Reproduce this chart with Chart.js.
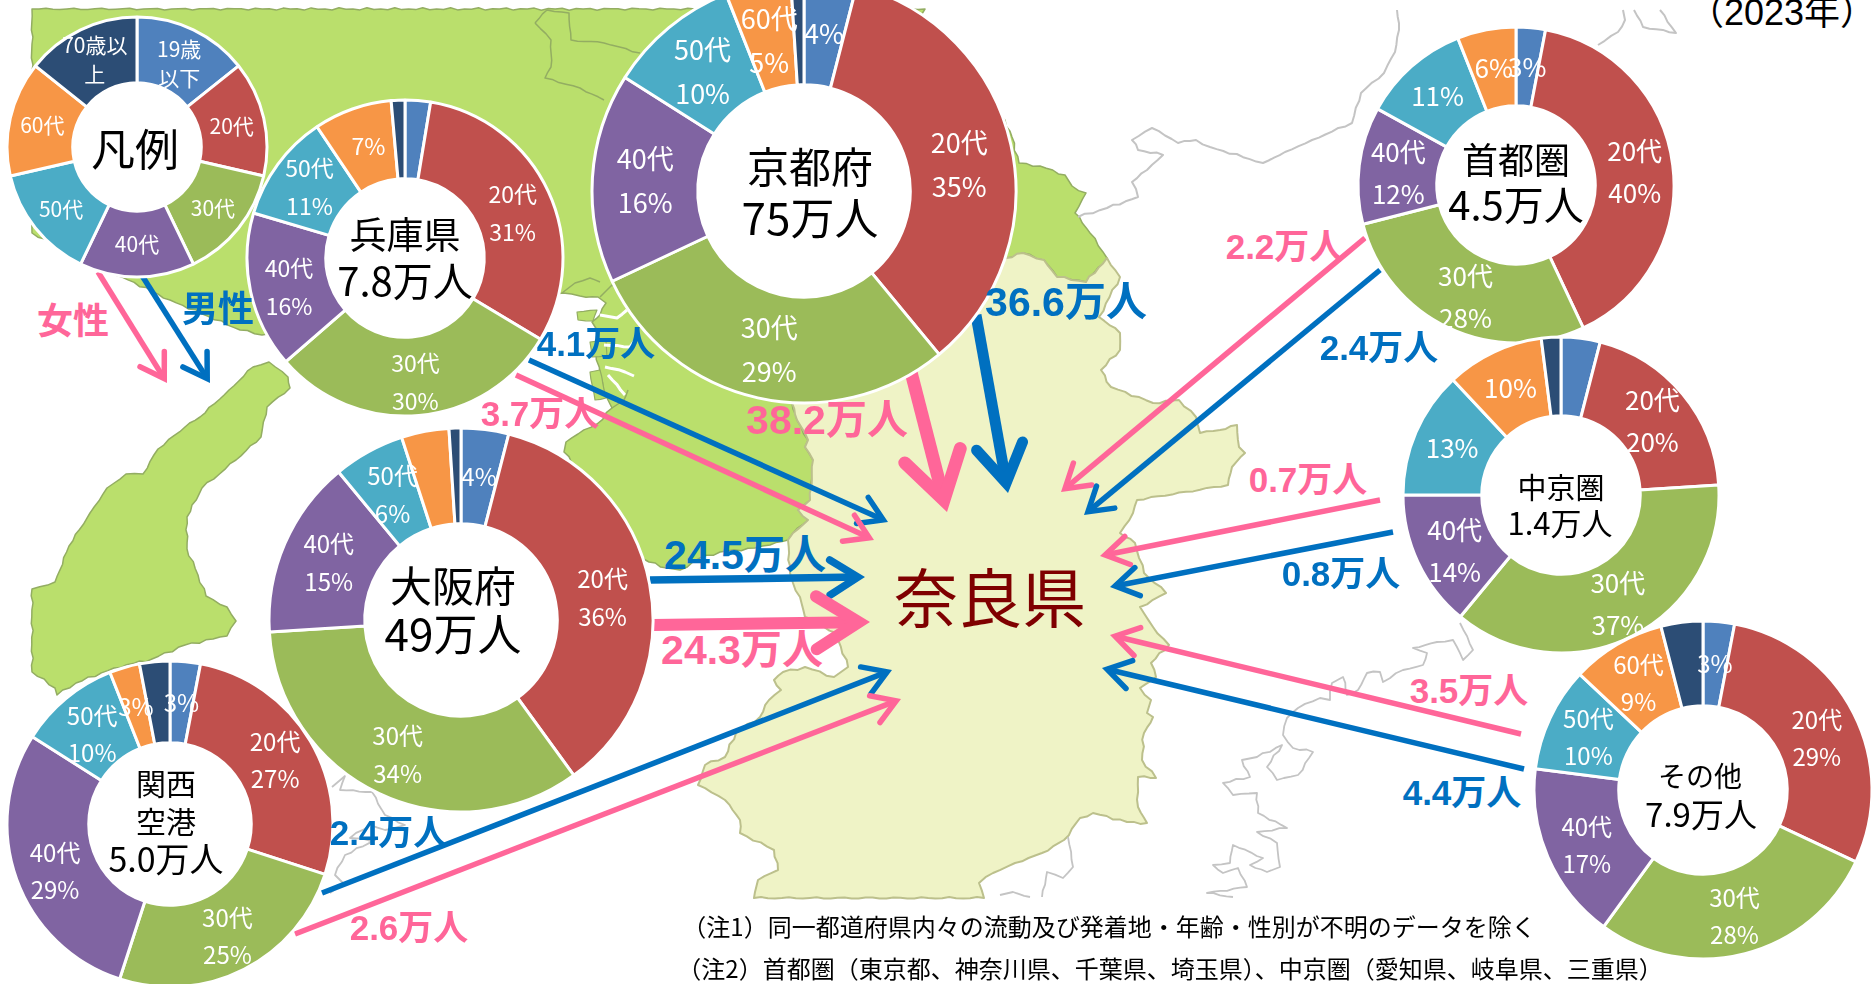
<!DOCTYPE html>
<html lang="ja"><head><meta charset="utf-8">
<style>
html,body{margin:0;padding:0;background:#fff;width:1872px;height:984px;overflow:hidden}
#stage{position:relative;width:1872px;height:984px;overflow:hidden;font-family:"Noto Sans CJK JP",sans-serif}
svg#map{position:absolute;left:0;top:0}
canvas{position:absolute}
.t{position:absolute;white-space:nowrap;transform:translate(-50%,-50%);line-height:1}
.b{font-family:"Liberation Sans","Noto Sans CJK JP",sans-serif;font-weight:700}
</style></head><body>
<div id="stage"><svg id="map" width="1872" height="984" xmlns="http://www.w3.org/2000/svg"></svg></div>
<script src="https://cdn.jsdelivr.net/npm/chart.js@4"></script>
<script>
// ---- data ----
const ageGroups = ['19歳以下','20代','30代','40代','50代','60代','70歳以上'];
const colors = ['#4F81BD','#C0504D','#9BBB59','#8064A2','#4BACC6','#F79646','#2C4D75'];
const legendValues = [1,1,1,1,1,1,1];
const hyogoValues  = [2.6,31,30,16,11,8,1.4];
const kyotoValues  = [4,35,29,16,10,5,1];
const osakaValues  = [4,36,34,15,6,4,1];
const kansaiValues = [3,27,25,29,10,3,3];
const shutoValues  = [3,40,28,12,11,6,0];
const chukyoValues = [4,20,37,14,13,10,2];
const sonotaValues = [3,29,28,17,10,9,4];
const legendLabels = [['19歳','以下'],['20代'],['30代'],['40代'],['50代'],['60代'],['70歳以','上']];
const hyogoLabels  = [[],['20代','31%'],['30代','30%'],['40代','16%'],['50代','11%'],['7%'],[]];
const kyotoLabels  = [['4%'],['20代','35%'],['30代','29%'],['40代','16%'],['50代','10%'],['60代','5%'],[]];
const osakaLabels  = [['4%'],['20代','36%'],['30代','34%'],['40代','15%'],['50代','6%'],[],[]];
const kansaiLabels = [['3%'],['20代','27%'],['30代','25%'],['40代','29%'],['50代','10%'],['3%'],[]];
const shutoLabels  = [['3%'],['20代','40%'],['30代','28%'],['40代','12%'],['11%'],['6%'],[]];
const chukyoLabels = [[],['20代','20%'],['30代','37%'],['40代','14%'],['13%'],['10%'],[]];
const sonotaLabels = [['3%'],['20代','29%'],['30代','28%'],['40代','17%'],['50代','10%'],['60代','9%'],[]];
const flowLabels = {
  kyotoF:'38.2万人',kyotoM:'36.6万人',osakaM:'24.5万人',osakaF:'24.3万人',hyogoM:'4.1万人',hyogoF:'3.7万人',
  kansaiM:'2.4万人',kansaiF:'2.6万人',shutoF:'2.2万人',shutoM:'2.4万人',chukyoF:'0.7万人',chukyoM:'0.8万人',
  sonotaF:'3.5万人',sonotaM:'4.4万人'};
const noteLines = ['（注1）同一都道府県内々の流動及び発着地・年齢・性別が不明のデータを除く',
  '（注2）首都圏（東京都、神奈川県、千葉県、埼玉県）、中京圏（愛知県、岐阜県、三重県）'];

// ---- background map (decoration) ----
const PINK='#FF6699', BLUE='#0070C0';
const svg=document.getElementById('map');
function el(n,a){const e=document.createElementNS('http://www.w3.org/2000/svg',n);for(const k in a)e.setAttribute(k,a[k]);svg.appendChild(e);return e;}
// coast roughening: fixed wobble so the outline is not ruler-straight
function rough(s,closed,amp){
  const p=s.trim().split(/\s+/).map(q=>q.split(',').map(Number));if(closed)p.push(p[0]);
  const out=[];let n=0;
  for(let i=0;i<p.length-1;i++){
    const [a,b]=p[i],[c,d]=p[i+1],L=Math.hypot(c-a,d-b),k=Math.max(1,Math.round(L/7));
    const nx=-(d-b)/(L||1),ny=(c-a)/(L||1);
    for(let j=0;j<k;j++){n++;const o=j===0?0:amp*Math.sin(n*2.399)*Math.cos(n*0.77);
      out.push((a+(c-a)*j/k+nx*o).toFixed(1)+','+(b+(d-b)*j/k+ny*o).toFixed(1));}
  }
  if(!closed)out.push(p[p.length-1].join(','));
  return out.join(' ');
}
const poly=(pts,fill,stroke,sw,amp)=>el('polygon',{points:rough(pts,true,amp===undefined?1.3:amp),fill,stroke:stroke||'none','stroke-width':sw||1,'stroke-linejoin':'round'});
const line=(pts,stroke,sw,amp)=>el('polyline',{points:rough(pts,false,amp===undefined?1.2:amp),fill:'none',stroke,'stroke-width':sw||2,'stroke-linejoin':'round'});
const GREEN='#BADF6C', PALE='#EFF3C6', GE='#93AD62', PE='#BCC08C', GR='#C4C4C4';
poly('32,9 925,9 900,40 1005,120 1012,137 1019,163 1040,166 1065,175 1072,186 1086,193 1075,213 1090,233 1107,258 1086,282 1057,277 1044,260 1023,253 1006,258 950,330 792,403 797,420 808,440 805,447 813,460 810,500 798,510 808,520 793,533 788,540 770,545 755,548 720,552 700,558 680,570 667,568 649,562 640,557 600,500 564,452 566,442 578,434 597,424 612,408 607,398 600,375 596,352 597,330 592,322 600,315 606,303 598,297 580,296 563,293 400,300 262,335 240,330 170,300 122,277 32,233',GREEN,GE,1.5);
// islands and channels of the bay
poly('577,312 597,310 593,321 578,320',GREEN,GE,1.2,.6);
poly('590,372 600,370 606,398 595,400',GREEN,GE,1.2,.6);
poly('590,342 606,340 607,356 592,357',GREEN,GE,1.2,.6);
line('600,315 617,318 627,310','#fff',3);line('604,345 630,347 637,338','#fff',3);line('605,367 625,372 634,376','#fff',3);line('608,375 625,395','#fff',3);
line('562,293 575,283 590,278 600,282',GE,1.5);line('600,297 612,285 622,290',GE,1.5);line('612,408 624,400 628,390',GE,1.5);
poly('792,403 950,330 1006,258 1023,253 1044,260 1057,277 1086,282 1107,258 1120,277 1099,317 1120,333 1120,350 1101,370 1111,387 1153,403 1179,400 1196,417 1200,433 1220,430 1237,425 1239,447 1245,453 1232,467 1228,485 1137,500 1133,513 1120,533 1135,543 1144,573 1166,593 1140,607 1153,627 1169,645 1151,663 1156,677 1140,688 1151,700 1147,713 1153,717 1144,733 1142,760 1156,778 1138,777 1138,807 1147,823 1127,822 1093,813 1080,818 1064,840 1042,853 1015,863 993,873 979,883 984,898 754,898 758,880 778,870 774,850 740,833 740,820 725,800 698,785 705,765 725,757 736,733 760,717 769,700 781,690 774,680 783,672 805,667 834,677 848,667 836,633 805,617 800,597 793,583 790,573 788,540 793,533 808,520 798,510 810,500 813,460 805,447 808,440 797,420',PALE,PE,2);
// island to the west
poly('269,362 288,377 290,388 267,407 261,437 236,460 202,488 187,517 187,549 198,575 206,596 227,607 236,621 227,636 185,645 152,659 114,668 76,683 57,695 55,688 32,672 32,589 55,582 69,546 90,513 107,488 126,474 143,474 158,449 185,427 200,417 229,390 253,367',GREEN,GE,1.5);
// internal and neighbouring borders
line('535,23 547,10 569,13 571,40 604,43 640,53',GE,1.5);
line('535,23 551,40 551,67 545,78 580,88 604,100',GE,1.5);
line('1397,10 1399,30 1395,52 1384,73 1361,93 1352,123 1312,140 1285,152 1263,163 1210,147 1196,140 1178,143 1152,128 1132,140 1138,150 1163,155 1147,170 1132,182 1138,197 1107,208 1078,217',GR,2);
line('1623,10 1625,20 1618,32 1598,45',GR,2);line('1634,10 1643,27 1676,33 1660,10',GR,2);
line('1460,623 1473,650 1463,660 1453,640 1437,642 1413,648 1427,653 1423,665 1403,670 1383,682 1380,672 1367,673 1358,690 1347,695 1343,677 1332,683 1330,700 1320,698 1298,708 1287,718 1283,735 1293,748 1313,752 1298,775 1277,780 1267,767 1282,745 1257,757 1242,760 1250,777 1223,783 1233,795 1257,793 1258,813 1287,828 1257,832 1277,843 1280,867 1267,872 1250,865 1263,858 1233,845 1230,863 1213,865 1223,873 1238,868 1247,887 1207,893 1233,897',GR,1.8);
line('1068,837 1073,867 1063,878 1047,872 1042,897',GR,1.8);
line('1000,895 1013,892 1030,897',GR,1.8);
line('332,787 345,776 340,790 372,792 385,815 405,825 385,830 370,825 350,838 375,840 345,855 335,875 345,885 330,893',GR,1.8);

// ---- arrows ----
function arrow(x1,y1,x2,y2,w,barb,color){
  const L=Math.hypot(x2-x1,y2-y1),dx=(x2-x1)/L,dy=(y2-y1)/L,th=32*Math.PI/180;
  const vx=x2-dx*(w/2)/Math.sin(th),vy=y2-dy*(w/2)/Math.sin(th);
  const rot=a=>[-(dx*Math.cos(a)-dy*Math.sin(a)),-(dx*Math.sin(a)+dy*Math.cos(a))];
  const a=rot(th),b=rot(-th);
  el('line',{x1,y1,x2:vx,y2:vy,stroke:color,'stroke-width':w});
  el('polyline',{points:`${vx+a[0]*barb},${vy+a[1]*barb} ${vx},${vy} ${vx+b[0]*barb},${vy+b[1]*barb}`,fill:'none',stroke:color,'stroke-width':w,'stroke-linecap':'round','stroke-linejoin':'miter','stroke-miterlimit':12});
}
arrow(98,272,167,383,5.5,27,PINK);arrow(141,274,210,383,5.5,27,BLUE);
arrow(911,372,947,512,13,54,PINK);arrow(976,315,1008,493,11,44,BLUE);
arrow(529,360,888,522,5.5,27,BLUE);arrow(516,375,874,540,5.5,27,PINK);
arrow(650,580,865,577,7.5,33,BLUE);arrow(653,625,870,622,12,50,PINK);
arrow(322,893,892,670,5.5,27,BLUE);arrow(295,934,901,699,5.5,27,PINK);
arrow(1365,238,1061,492,5.5,27,PINK);arrow(1380,270,1084,515,5.5,27,BLUE);
arrow(1380,500,1100,556,5.5,27,PINK);arrow(1393,532,1110,587,5.5,27,BLUE);
arrow(1521,734,1110,635,5.5,27,PINK);arrow(1524,769,1102,668,5.5,27,BLUE);

// ---- doughnuts ----
const stage=document.getElementById('stage');
const ringPlugin={id:'ring',
  beforeDatasetsDraw(c,a,o){const x=c.width/2,y=c.height/2,g=c.ctx;
    g.save();g.fillStyle='#fff';g.beginPath();g.arc(x,y,o.inner+1,0,Math.PI*2);g.fill();g.restore();},
  afterDatasetsDraw(c,a,o){const g=c.ctx,meta=c.getDatasetMeta(0);g.save();g.fillStyle='#fff';g.textAlign='center';g.textBaseline='middle';
    g.font=o.size+'px "Noto Sans CJK JP"';
    meta.data.forEach((arc,i)=>{const ls=o.labels[i]||[];if(!ls.length)return;const p=arc.getCenterPoint(),n=o.nudge[i]||[0,0];
      ls.forEach((s,k)=>g.fillText(s,p.x+n[0],p.y+n[1]+(k-(ls.length-1)/2)*o.gap));});
    g.restore();}
};
const z=[0,0];
const pieDefs=[
 {cx:137,cy:147,r:130,v:legendValues,l:legendLabels,size:21,gap:29,n:[[0,4],[0,1],z,z,[0,1],z,z]},
 {cx:405,cy:258,r:158,v:hyogoValues,l:hyogoLabels,size:23,gap:38,n:[z,[0,5],[0,6],[0,4],z,[3,0],z]},
 {cx:804,cy:191,r:212,v:kyotoValues,l:kyotoLabels,size:27,gap:44,n:[[0,1],[0,8],[0,3],z,[0,3],[0,5],z]},
 {cx:461,cy:620,r:192,v:osakaValues,l:osakaLabels,size:24,gap:38,n:[z,[0,5],[-2,4],z,[1,1],z,z]},
 {cx:170,cy:824,r:163,v:kansaiValues,l:kansaiLabels,size:24,gap:37,n:[z,[0,-1],[2,4],[0,6],[0,4],z,z]},
 {cx:1516,cy:185,r:158,v:shutoValues,l:shutoLabels,size:26,gap:42,n:[z,[1,2],[0,5],[0,3],z,z,z]},
 {cx:1561,cy:495,r:158,v:chukyoValues,l:chukyoLabels,size:26,gap:42,n:[z,[0,2],[3,3],[1,6],z,z,z]},
 {cx:1703,cy:790,r:169,v:sonotaValues,l:sonotaLabels,size:24,gap:37,n:[z,[1,6],[0,4],[0,5],[0,1],[0,2],z]}
];
pieDefs.forEach(d=>{
  const s=2*(d.r+5),cv=document.createElement('canvas');
  cv.width=s;cv.height=s;cv.style.left=(d.cx-d.r-5)+'px';cv.style.top=(d.cy-d.r-5)+'px';cv.style.width=s+'px';cv.style.height=s+'px';
  stage.appendChild(cv);
  const inner=Math.round(d.r*0.51);
  new Chart(cv,{type:'doughnut',plugins:[ringPlugin],
    data:{labels:ageGroups,datasets:[{data:d.v,backgroundColor:colors,borderColor:'#fff',borderWidth:3}]},
    options:{responsive:false,animation:false,radius:d.r,cutout:inner,
      layout:{padding:0},
      plugins:{legend:{display:false},title:{display:false},tooltip:{enabled:false},
        ring:{inner,labels:d.l,size:d.size,gap:d.gap,nudge:d.n}}}});
});

// ---- text ----
function T(txt,x,y,size,color,bold,extra){const e=document.createElement('div');e.className='t'+(bold?' b':'');e.textContent=txt;
  e.style.left=x+'px';e.style.top=y+'px';e.style.fontSize=size+'px';e.style.color=color||'#000';if(extra)Object.assign(e.style,extra);stage.appendChild(e);}
// centre titles
T('凡例',135,147,44);
T('兵庫県',405,233,37);T('7.8万人',405,279,40);
T('京都府',810,165,42);T('75万人',810,216,44);
T('首都圏',1516,158,36);T('4.5万人',1516,203,40);
T('中京圏',1561,486,29);T('1.4万人',1560,521,31);
T('その他',1700,775,28);T('7.9万人',1701,813,33);
T('関西',166,782,30);T('空港',166,820,30);T('5.0万人',166,858,34);
T('大阪府',453,584,42);T('49万人',453,632,44);
T('奈良県',990,594,64,'#7F0000');
T('（2023年）',1782,13,36,'#000',false,{fontFamily:'"Liberation Sans","Noto Sans CJK JP",sans-serif'});
// flow labels
const big=41,small=35;
T('女性',73,322,36,PINK,true);T('男性',218,310,36,BLUE,true);
T(flowLabels.kyotoM,1066,302,big,BLUE,true);T(flowLabels.kyotoF,827,420,big,PINK,true);
T(flowLabels.osakaM,745,555,big,BLUE,true);T(flowLabels.osakaF,742,650,big,PINK,true);
T(flowLabels.hyogoM,596,343,small,BLUE,true);T(flowLabels.hyogoF,540,413,small,PINK,true);
T(flowLabels.kansaiM,389,832,small,BLUE,true);T(flowLabels.kansaiF,409,927,small,PINK,true);
T(flowLabels.shutoF,1285,246,small,PINK,true);T(flowLabels.shutoM,1379,347,small,BLUE,true);
T(flowLabels.chukyoF,1308,479,small,PINK,true);T(flowLabels.chukyoM,1341,573,small,BLUE,true);
T(flowLabels.sonotaF,1469,690,small,PINK,true);T(flowLabels.sonotaM,1462,792,small,BLUE,true);
// notes
T(noteLines[0],1109,926,24);T(noteLines[1],1170,968,24);
</script></body></html>
